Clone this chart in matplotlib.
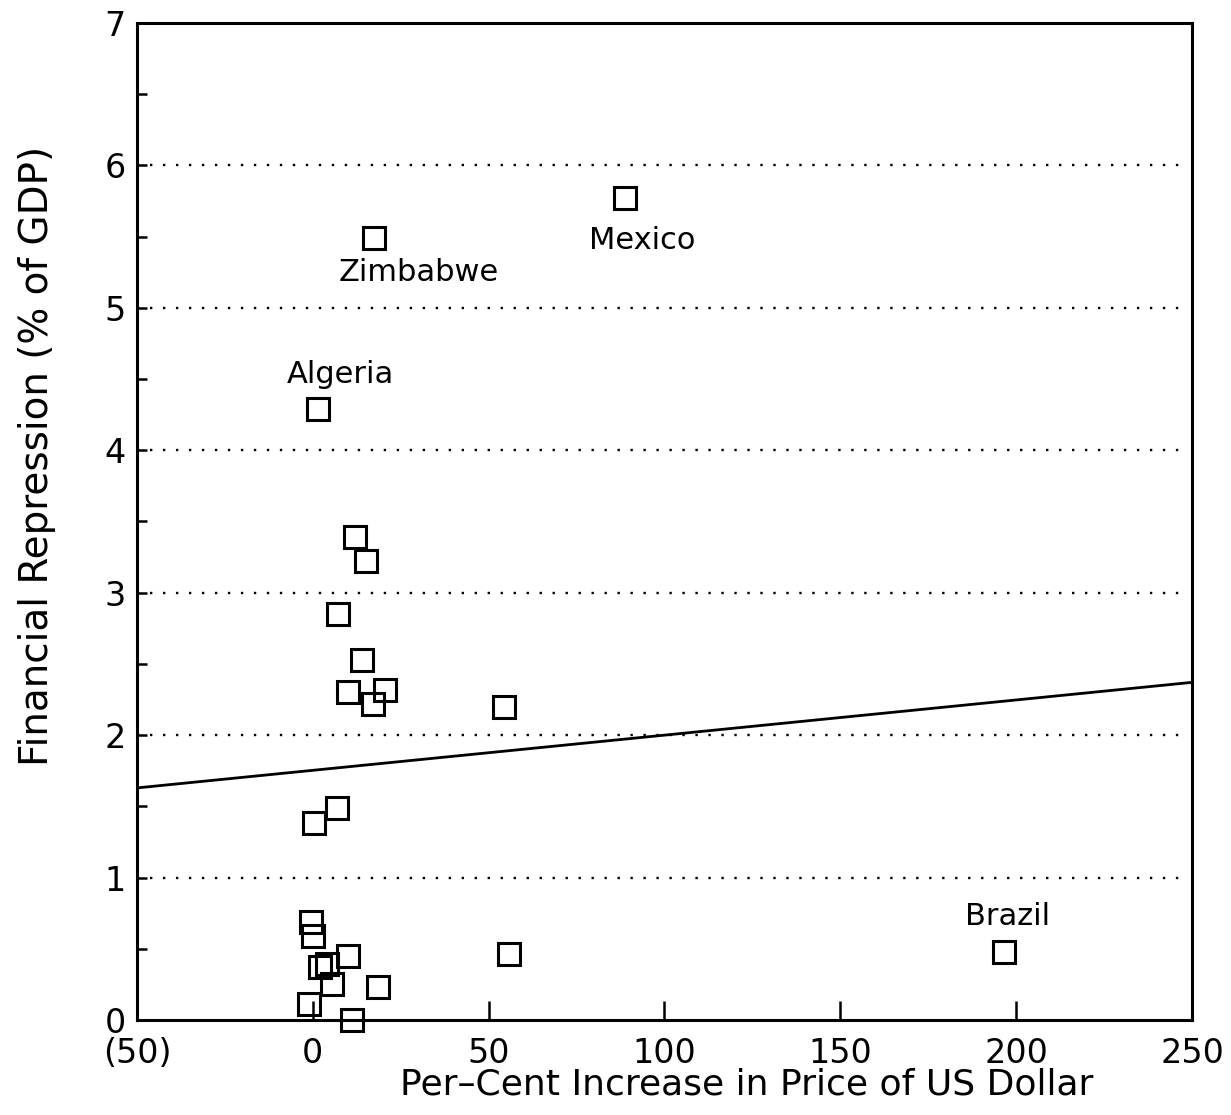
import numpy as np
import matplotlib.pyplot as plt
from matplotlib.ticker import MultipleLocator
from matplotlib.transforms import ScaledTranslation

# per-cent increase in price of US dollar, financial repression (% of GDP)
pct_increase = [88.7, 17.3, 1.4, 11.9, 15.1, 7.1, 13.9, 10.0, 20.5, 17.1, 54.3,
                6.8, 0.3, -0.6, 0.0, 2.0, 4.0, 10.0, 5.4, -1.1, 11.0, 18.5,
                55.7, 196.5]
repression = [5.77, 5.49, 4.29, 3.39, 3.22, 2.85, 2.53, 2.30, 2.32, 2.22, 2.20,
              1.49, 1.38, 0.69, 0.59, 0.37, 0.39, 0.45, 0.25, 0.11, 0.00, 0.23,
              0.46, 0.48]

# fitted line
fit_intercept = 1.753
fit_slope = 0.00247

# labelled countries: name, label x, label y
labels = [("Mexico", 93.6, 5.47),
          ("Zimbabwe", 30.2, 5.25),
          ("Algeria", 7.8, 4.53),
          ("Brazil", 197.7, 0.73)]

fig = plt.figure(figsize=(12.31, 11.15), dpi=100)
ax = fig.add_axes([0.1113, 0.0852, 0.857, 0.8942])

ax.set_xlim(-50, 250)
ax.set_ylim(0, 7)

for y in range(1, 7):
    ax.plot([-50, 248], [y, y], color="black", linestyle=(0, (1, 4.5)),
            linewidth=1.7, zorder=1)

xs = np.array([-50, 250])
ax.plot(xs, fit_intercept + fit_slope * xs, color="black", linewidth=2.0,
        zorder=2)

ax.plot(pct_increase, repression, linestyle="none", marker="s",
        markersize=16.5, markerfacecolor="none", markeredgecolor="black",
        markeredgewidth=2.2, zorder=3, clip_on=False)

for name, lx, ly in labels:
    ax.text(lx, ly, name, fontsize=22, ha="center", va="center")

for side in ["top", "right", "bottom", "left"]:
    ax.spines[side].set_linewidth(2.2)

ax.xaxis.set_major_locator(MultipleLocator(50))
ax.yaxis.set_major_locator(MultipleLocator(1))
ax.yaxis.set_minor_locator(MultipleLocator(0.5))
ax.tick_params(axis="x", direction="in", length=14, width=1.8, labelsize=24,
               pad=12)
ax.tick_params(axis="y", which="both", direction="in", length=7, width=1.8,
               labelsize=24, pad=8)
ax.set_xticks([-50, 0, 50, 100, 150, 200, 250])
ax.set_xticklabels(["(50)", "0", "50", "100", "150", "200", "250"])

# lift the y "0" a little so it clears the "(50)" below it
ytl = ax.get_yticklabels()
ytl[0].set_transform(ytl[0].get_transform()
                     + ScaledTranslation(0, 5 / 72, fig.dpi_scale_trans))

ax.set_xlabel("Per\u2013Cent Increase in Price of US Dollar", fontsize=26)
ax.xaxis.set_label_coords(0.578, -0.048)
ax.set_ylabel("Financial Repression (% of GDP)", fontsize=28)
ax.yaxis.set_label_coords(-0.077, 0.566)

fig.savefig("out.png", dpi=100)
